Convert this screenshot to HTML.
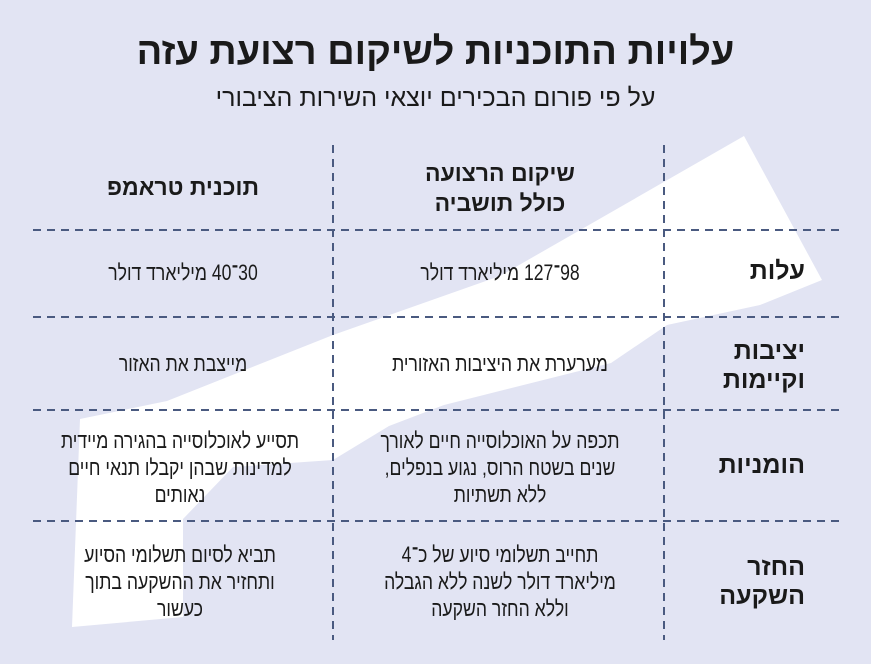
<!DOCTYPE html>
<html lang="he" dir="rtl"><head><meta charset="utf-8">
<style>
html,body{margin:0;padding:0}
body{width:871px;height:664px;background:#e2e4f3;position:relative;overflow:hidden;font-family:"Liberation Sans","Noto Sans CJK SC",sans-serif;color:#1a1a1a}
.t{position:absolute;text-align:center;white-space:nowrap}
.h{font-weight:bold}
.c{font-size:22px;line-height:27px;transform:scaleX(0.8)}
.lab{position:absolute;font-weight:900;font-size:25px;line-height:29px;text-align:right;right:66px;white-space:nowrap}
</style></head><body>
<svg width="871" height="664" style="position:absolute;left:0;top:0">
<polygon fill="#fff" points="744,136 822,280 760,305 667,325 611,363 444,405 389,426 333,460 233,467 183,519 183,617 72,627 80,419 167,401 333,335 500,276"/>
<g stroke="#4a5a80" stroke-width="2" stroke-dasharray="8,6">
<line x1="333" y1="145" x2="333" y2="640"/>
<line x1="664" y1="145" x2="664" y2="640"/>
<line x1="33" y1="230" x2="843" y2="230"/>
<line x1="33" y1="317" x2="843" y2="317"/>
<line x1="33" y1="410" x2="843" y2="410"/>
<line x1="33" y1="521" x2="843" y2="521"/>
</g>
</svg>
<div class="t h" style="left:0;width:871px;top:31px;font-size:38px;font-weight:900">עלויות התוכניות לשיקום רצועת עזה</div>
<div class="t" style="left:0;width:871px;top:84px;font-size:25px">על פי פורום הבכירים יוצאי השירות הציבורי</div>
<div class="t h" style="left:33px;width:300px;top:174px;font-size:23px">תוכנית טראמפ</div>
<div class="t h" style="left:340px;width:320px;top:158px;font-size:23px;line-height:30px">שיקום הרצועה<br>כולל תושביה</div>
<div class="t c" style="left:33px;width:300px;top:259px">30־40 מיליארד דולר</div>
<div class="t c" style="left:340px;width:320px;top:259px">98־127 מיליארד דולר</div>
<div class="t c" style="left:33px;width:300px;top:350px">מייצבת את האזור</div>
<div class="t c" style="left:340px;width:320px;top:350px">מערערת את היציבות האזורית</div>
<div class="t c" style="left:20px;width:320px;top:427px">תסייע לאוכלוסייה בהגירה מיידית<br>למדינות שבהן יקבלו תנאי חיים<br>נאותים</div>
<div class="t c" style="left:340px;width:320px;top:427px">תכפה על האוכלוסייה חיים לאורך<br>שנים בשטח הרוס, נגוע בנפלים,<br>ללא תשתיות</div>
<div class="t c" style="left:20px;width:320px;top:541px">תביא לסיום תשלומי הסיוע<br>ותחזיר את ההשקעה בתוך<br>כעשור</div>
<div class="t c" style="left:340px;width:320px;top:541px">תחייב תשלומי סיוע של כ־4<br>מיליארד דולר לשנה ללא הגבלה<br>וללא החזר השקעה</div>
<div class="lab" style="top:257px">עלות</div>
<div class="lab" style="top:337px">יציבות<br>וקיימות</div>
<div class="lab" style="top:451px">הומניות</div>
<div class="lab" style="top:553px">החזר<br>השקעה</div>
</body></html>
